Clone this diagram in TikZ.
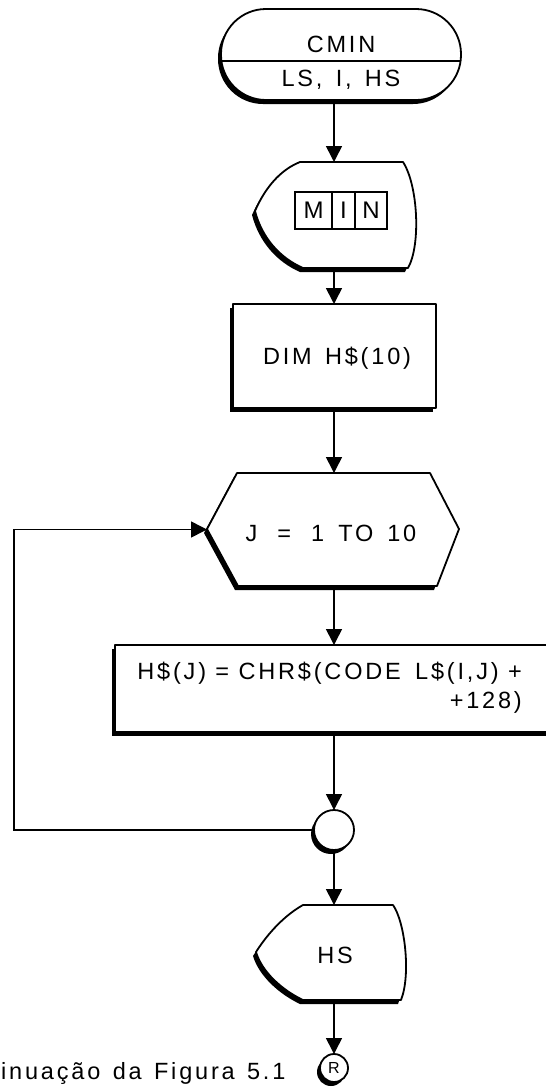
\documentclass[tikz,border=0pt]{standalone}
\usepackage{fontspec}
\setmainfont{Liberation Sans}[LetterSpace=12]
\usetikzlibrary{arrows.meta}
\newcommand\shpath[2][]{%
  \fill[black,shift={(-3,4)},#1] #2;
  \filldraw[outline,fill=white,#1] #2;}
\begin{document}
\begin{tikzpicture}[x=1pt,y=-1pt,
  outline/.style={line width=1.8pt,line join=round},
  flow/.style={line width=1.6pt,-{Triangle[length=16pt,width=16pt]}},
  hit/.style={inner sep=0pt,outer sep=0pt},
  lbl/.style={inner sep=0pt,font=\fontsize{23.5}{29}\selectfont},
  small/.style={inner sep=0pt,font=\fontsize{16}{19}\selectfont},
  cell/.style={draw,line width=1.3pt,inner sep=0pt,minimum height=37pt,font=\fontsize{24}{28}\selectfont}]
\useasboundingbox (0,0) rectangle (546,1087);
\clip (0,0) rectangle (546,1087);
% shapes
\shpath[rounded corners=45pt]{(221,9) rectangle (461,100)}
\draw[outline] (221.5,61) -- (460.5,61);
\shpath{(300,162) -- (403,162) .. controls (418,185) and (421,245) .. (408,268) -- (303,268) .. controls (280,258) and (262,238) .. (255,211) .. controls (265,188) and (280,170) .. (300,162) -- cycle}
\shpath{(233,304) rectangle (436,408)}
\shpath{(237,473) -- (430,473) -- (459,529) -- (437,586) -- (238,586) -- (207,529) -- cycle}
\shpath{(115,645) rectangle (570,732)}
\shpath{(334,830) circle[radius=20]}
\shpath{(303,905) -- (393,905) .. controls (405,922) and (411,975) .. (401,1000) -- (303,1000) .. controls (282,990) and (262,972) .. (256,952) .. controls (268,933) and (285,915) .. (303,905) -- cycle}
\shpath{(334,1068) circle[radius=14]}
% anchor nodes
\node[hit,minimum width=240pt,minimum height=91pt] (term) at (341,54.5) {};
\node[hit,minimum width=160pt,minimum height=106pt] (disp) at (334,215) {};
\node[hit,minimum width=203pt,minimum height=104pt] (dim) at (334,356) {};
\node[hit,minimum width=254pt,minimum height=113pt] (hex) at (334,529.5) {};
\node[hit,minimum width=20pt,minimum height=87pt] (proc) at (334,688.5) {};
\node[hit,circle,minimum size=40pt] (jn) at (334,830) {};
\node[hit,minimum width=150pt,minimum height=95pt] (disp2) at (334,952.5) {};
\node[hit,circle,minimum size=28pt,small] (rc) at (334,1068) {R};
% texts
\node[lbl] (cmin) at (341,44) {CMIN};
\node[lbl] (args) at (341,80) {LS,\, I,\, HS};
\node[cell,minimum width=37pt] (cm) at (313.5,210.5) {M};
\node[cell,minimum width=23pt] (ci) at (343.5,210.5) {I};
\node[cell,minimum width=32pt] (cn) at (371,210.5) {N};
\node[lbl] (dimtxt) at (337,358) {DIM\hspace{4pt} H\$(10)};
\node[lbl] (jtxt) at (331,533) {J\hspace{20pt}=\hspace{20pt}1\hspace{14pt}TO\hspace{14pt}10};
\node[lbl,anchor=east,align=right] (proctxt) at (522,688) {H\$(J) = CHR\$(CODE\hspace{5pt} L\$(I,J) +\\+128)};
\node[lbl] (hstxt) at (335,955) {HS};
\node[lbl,anchor=west] (cap) at (1,1073) {inuação\hspace{3pt} da\hspace{3pt} Figura\hspace{3pt} 5.1};
% connectors
\draw[flow] (term.south -| disp.north) -- (disp.north);
\draw[flow] (disp.south) -- (dim.north);
\draw[flow] (dim.south) -- (hex.north);
\draw[flow] (hex.south) -- (proc.north);
\draw[flow] (proc.south) -- (jn.north);
\coordinate (loopc) at (14,830);
\draw[flow] (jn.west) -- (loopc) |- (hex.west);
\draw[flow] (jn.south) -- (disp2.north);
\draw[flow] (disp2.south) -- (rc.north);
\end{tikzpicture}
\end{document}
